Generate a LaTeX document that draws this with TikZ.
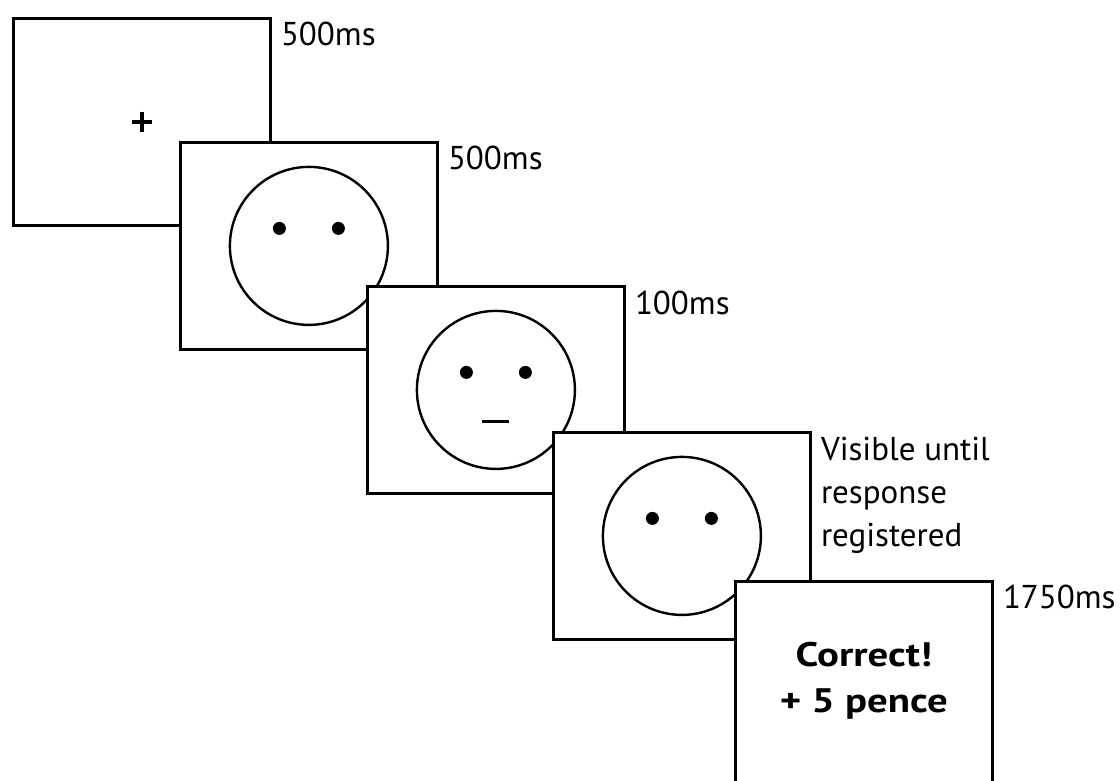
\documentclass[tikz,border=0pt]{standalone}
\usepackage{fontspec}
\setmainfont{PT Sans}
\newfontfamily\fbfont[FakeStretch=1.2]{PT Sans}
\begin{document}
\begin{tikzpicture}[x=1pt,y=-1pt,
  screen/.style={draw=black, fill=white, line width=2.8pt, rectangle,
    minimum width=257pt, minimum height=207pt, anchor=north west, inner sep=0pt},
  face/.style={draw=black, line width=2.4pt, circle, minimum size=158pt, inner sep=0pt},
  lab/.style={anchor=base west, inner sep=0pt, align=left,
    font=\fontsize{33}{43}\selectfont},
  eye/.style={fill=black},
  feedback/.style={anchor=base, inner sep=0pt, align=center,
    font=\fbfont\fontsize{34}{46}\selectfont\bfseries}]
\useasboundingbox (0,0) rectangle (1120,781);
\clip (0,0) rectangle (1120,781);
\fill[white] (0,0) rectangle (1120,781);

% fixation screen
\node[screen] (s1) at (12,17) {};
\draw[line width=3.6pt] (132,122) -- (152,122) (142,112) -- (142,132);
\node[lab] (t1) at ([xshift=9pt,yshift=-29pt]s1.north east) {500ms};

% neutral face, eyes only
\node[screen] (s2) at (179,141) {};
\node[face] (f2) at (s2.center) {};
\fill[eye] ([xshift=-29.5pt,yshift=17.5pt]f2.center) circle (6.5pt);
\fill[eye] ([xshift=29.5pt,yshift=17.5pt]f2.center) circle (6.5pt);
\node[lab] (t2) at ([xshift=9pt,yshift=-29pt]s2.north east) {500ms};

% face with mouth
\node[screen] (s3) at (366,285) {};
\node[face] (f3) at (s3.center) {};
\fill[eye] ([xshift=-29.5pt,yshift=17.5pt]f3.center) circle (6.5pt);
\fill[eye] ([xshift=29.5pt,yshift=17.5pt]f3.center) circle (6.5pt);
\draw[line width=3pt] ([xshift=-13.5pt,yshift=-31.5pt]f3.center) -- ([xshift=13.5pt,yshift=-31.5pt]f3.center);
\node[lab] (t3) at ([xshift=9pt,yshift=-29pt]s3.north east) {100ms};

% response face; the label is anchored at the baseline of its last line
\node[screen] (s4) at (552,431) {};
\node[face] (f4) at (s4.center) {};
\fill[eye] ([xshift=-29.5pt,yshift=17.5pt]f4.center) circle (6.5pt);
\fill[eye] ([xshift=29.5pt,yshift=17.5pt]f4.center) circle (6.5pt);
\node[lab] (t4) at ([xshift=9pt,yshift=-115pt]s4.north east) {Visible until\\response\\registered};

% feedback screen
\node[screen] (s5) at (734,580) {};
\node[feedback] (fb) at ([yshift=-132pt]s5.north) {Correct!\\+ 5 pence};
\node[lab] (t5) at ([xshift=9pt,yshift=-28pt]s5.north east) {1750ms};
\end{tikzpicture}
\end{document}
